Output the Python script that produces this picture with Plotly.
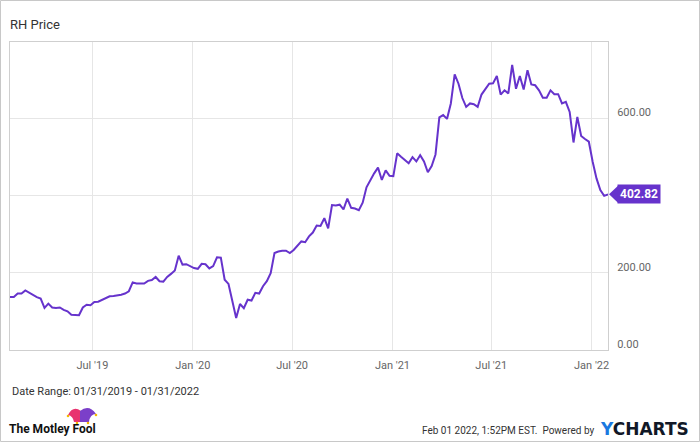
import plotly.graph_objects as go
import pandas as pd

# ---- data ----
price = [
    137, 137, 146, 146, 154, 148, 141, 137, 133, 109,
    120, 110, 109, 110, 104, 100, 91, 90, 90, 110,
    117, 116, 124, 125, 130, 134, 139, 140, 141, 143,
    146, 152, 175, 172, 172, 172, 179, 181, 189, 178,
    177, 189, 197, 206, 244, 221, 222, 216, 212, 210,
    223, 222, 211, 217, 240, 239, 182, 171, 127, 83,
    119, 108, 130, 128, 148, 146, 165, 178, 199, 251,
    255, 257, 257, 251, 259, 270, 281, 279, 294, 304,
    322, 321, 341, 315, 375, 374, 376, 364, 392, 368,
    366, 362, 381, 421, 440, 457, 472, 440, 465, 451,
    450, 509, 500, 492, 483, 499, 488, 504, 488, 460,
    476, 506, 602, 608, 598, 638, 713, 689, 652, 629,
    638, 636, 629, 661, 676, 689, 690, 709, 661, 672,
    664, 738, 676, 709, 674, 724, 687, 685, 672, 653,
    653, 672, 662, 662, 638, 642, 616, 537, 603, 554,
    546, 539, 487, 444, 414, 399, 402.82,
]
start_date = "2019-01-31"
end_date = "2022-01-31"
dates = pd.date_range(start_date, end_date, periods=len(price))

x_tick_dates = ["2019-07-01", "2020-01-01", "2020-07-01", "2021-01-01", "2021-07-01", "2022-01-01"]
x_tick_labels = ["Jul '19", "Jan '20", "Jul '20", "Jan '21", "Jul '21", "Jan '22"]
y_ticks = [0, 200, 400, 600]
y_max = 797

title_text = "RH Price"
date_range_text = "Date Range: 01/31/2019 - 01/31/2022"
stamp_text = "Feb 01 2022, 1:52PM EST.  Powered by"

# ---- style ----
PURPLE = "#6633cc"
W, H = 700, 442
ML, MR, MT, MB = 10, 92, 42, 92
PW, PH = W - ML - MR, H - MT - MB


def px(xpix):
    return (xpix - ML) / PW


def py(ypix):
    return (H - MB - ypix) / PH


fig = go.Figure()
fig.add_trace(go.Scatter(
    x=dates, y=price, mode="lines",
    line=dict(color=PURPLE, width=2),
    hoverinfo="skip", showlegend=False,
))

fig.update_layout(
    width=W, height=H,
    margin=dict(l=ML, r=MR, t=MT, b=MB),
    paper_bgcolor="white", plot_bgcolor="white",
    font=dict(family="Roboto", color="#666"),
    xaxis=dict(
        range=[start_date, end_date],
        tickvals=x_tick_dates, ticktext=x_tick_labels,
        showgrid=True, gridcolor="#e6e6e6", gridwidth=1,
        showline=True, linecolor="#cfcfcf", linewidth=1, mirror=True,
        ticks="", tickfont=dict(size=11, color="#666"),
        ticklabelstandoff=5,
        zeroline=False, fixedrange=True,
    ),
    yaxis=dict(
        range=[0, y_max], side="right",
        tickvals=y_ticks, ticktext=[f"{v:.2f}" for v in y_ticks],
        showgrid=True, gridcolor="#e6e6e6", gridwidth=1,
        showline=True, linecolor="#cfcfcf", linewidth=1, mirror=True,
        ticks="outside", ticklen=6, tickcolor="rgba(0,0,0,0)",
        tickfont=dict(size=11, color="#666"),
        ticklabelshift=-6,
        zeroline=False, fixedrange=True,
    ),
)

last = price[-1]

annotations = [
    dict(text=title_text, xref="paper", yref="paper", x=px(8), y=py(25),
         xanchor="left", yanchor="middle", showarrow=False,
         font=dict(size=13, color="#333", family="Roboto")),
    dict(text=f"<b>{last:.2f}</b>", xref="paper", yref="y", x=1, y=last,
         xanchor="left", yanchor="middle", xshift=9, showarrow=False,
         bgcolor=PURPLE, borderpad=2,
         font=dict(size=12, color="white", family="Roboto")),
    dict(text=date_range_text, xref="paper", yref="paper", x=px(10), y=py(392),
         xanchor="left", yanchor="middle", showarrow=False,
         font=dict(size=11, color="#333", family="Roboto")),
    dict(text="<b>The Motley Fool</b>", xref="paper", yref="paper", x=px(7), y=py(429),
         xanchor="left", yanchor="middle", showarrow=False,
         font=dict(size=12, color="#111", family="Roboto")),
    dict(text=stamp_text, xref="paper", yref="paper", x=px(596), y=py(430),
         xanchor="right", yanchor="middle", showarrow=False,
         font=dict(size=10, color="#333", family="Roboto")),
    dict(text="<b><span style='color:#1a78e0'>Y</span>CHARTS</b>", xref="paper", yref="paper",
         x=px(598), y=py(429), xanchor="left", yanchor="middle", showarrow=False,
         font=dict(size=17, color="#111827", family="DejaVu Sans")),
]
fig.update_layout(annotations=annotations)

shapes = [
    # outer frame
    dict(type="rect", xref="paper", yref="paper",
         x0=px(0.5), y0=py(0.5), x1=px(W - 0.5), y1=py(H - 0.5),
         line=dict(color="#c8c8c8", width=1), fillcolor="rgba(0,0,0,0)", layer="below"),
]
# pointer of the last-value tag, placed at the last price
y_last_pix = (H - MB) - last / y_max * PH
shapes.append(dict(
    type="path", xref="paper", yref="paper",
    path=f"M {px(609)},{py(y_last_pix)} L {px(618)},{py(y_last_pix - 8.5)} "
         f"L {px(618)},{py(y_last_pix + 8.5)} Z",
    fillcolor=PURPLE, line=dict(width=0), layer="above"))
# jester hat of the logo
shapes.append(dict(
    type="path", xref="paper", yref="paper",
    path=f"M {px(68)},{py(415)} Q {px(73)},{py(405)} {px(81)},{py(411)} "
         f"L {px(81)},{py(422)} L {px(74)},{py(422)} Q {px(73)},{py(416)} {px(68)},{py(415)} Z",
    fillcolor="#e8336f", line=dict(width=0)))
shapes.append(dict(
    type="path", xref="paper", yref="paper",
    path=f"M {px(80)},{py(411)} Q {px(89)},{py(404)} {px(96)},{py(414)} "
         f"Q {px(90)},{py(414)} {px(89)},{py(422)} L {px(80)},{py(422)} Z",
    fillcolor="#7b3fc9", line=dict(width=0)))
for cx, cy in [(68, 416), (96, 415), (77, 423), (88, 423)]:
    shapes.append(dict(type="circle", xref="paper", yref="paper",
                       x0=px(cx - 1.3), x1=px(cx + 1.3), y0=py(cy + 1.3), y1=py(cy - 1.3),
                       fillcolor="#f5b800", line=dict(width=0)))
fig.update_layout(shapes=shapes)

fig.write_html("out.html", config={"displayModeBar": False},
               post_script="document.body.style.margin='0';")
